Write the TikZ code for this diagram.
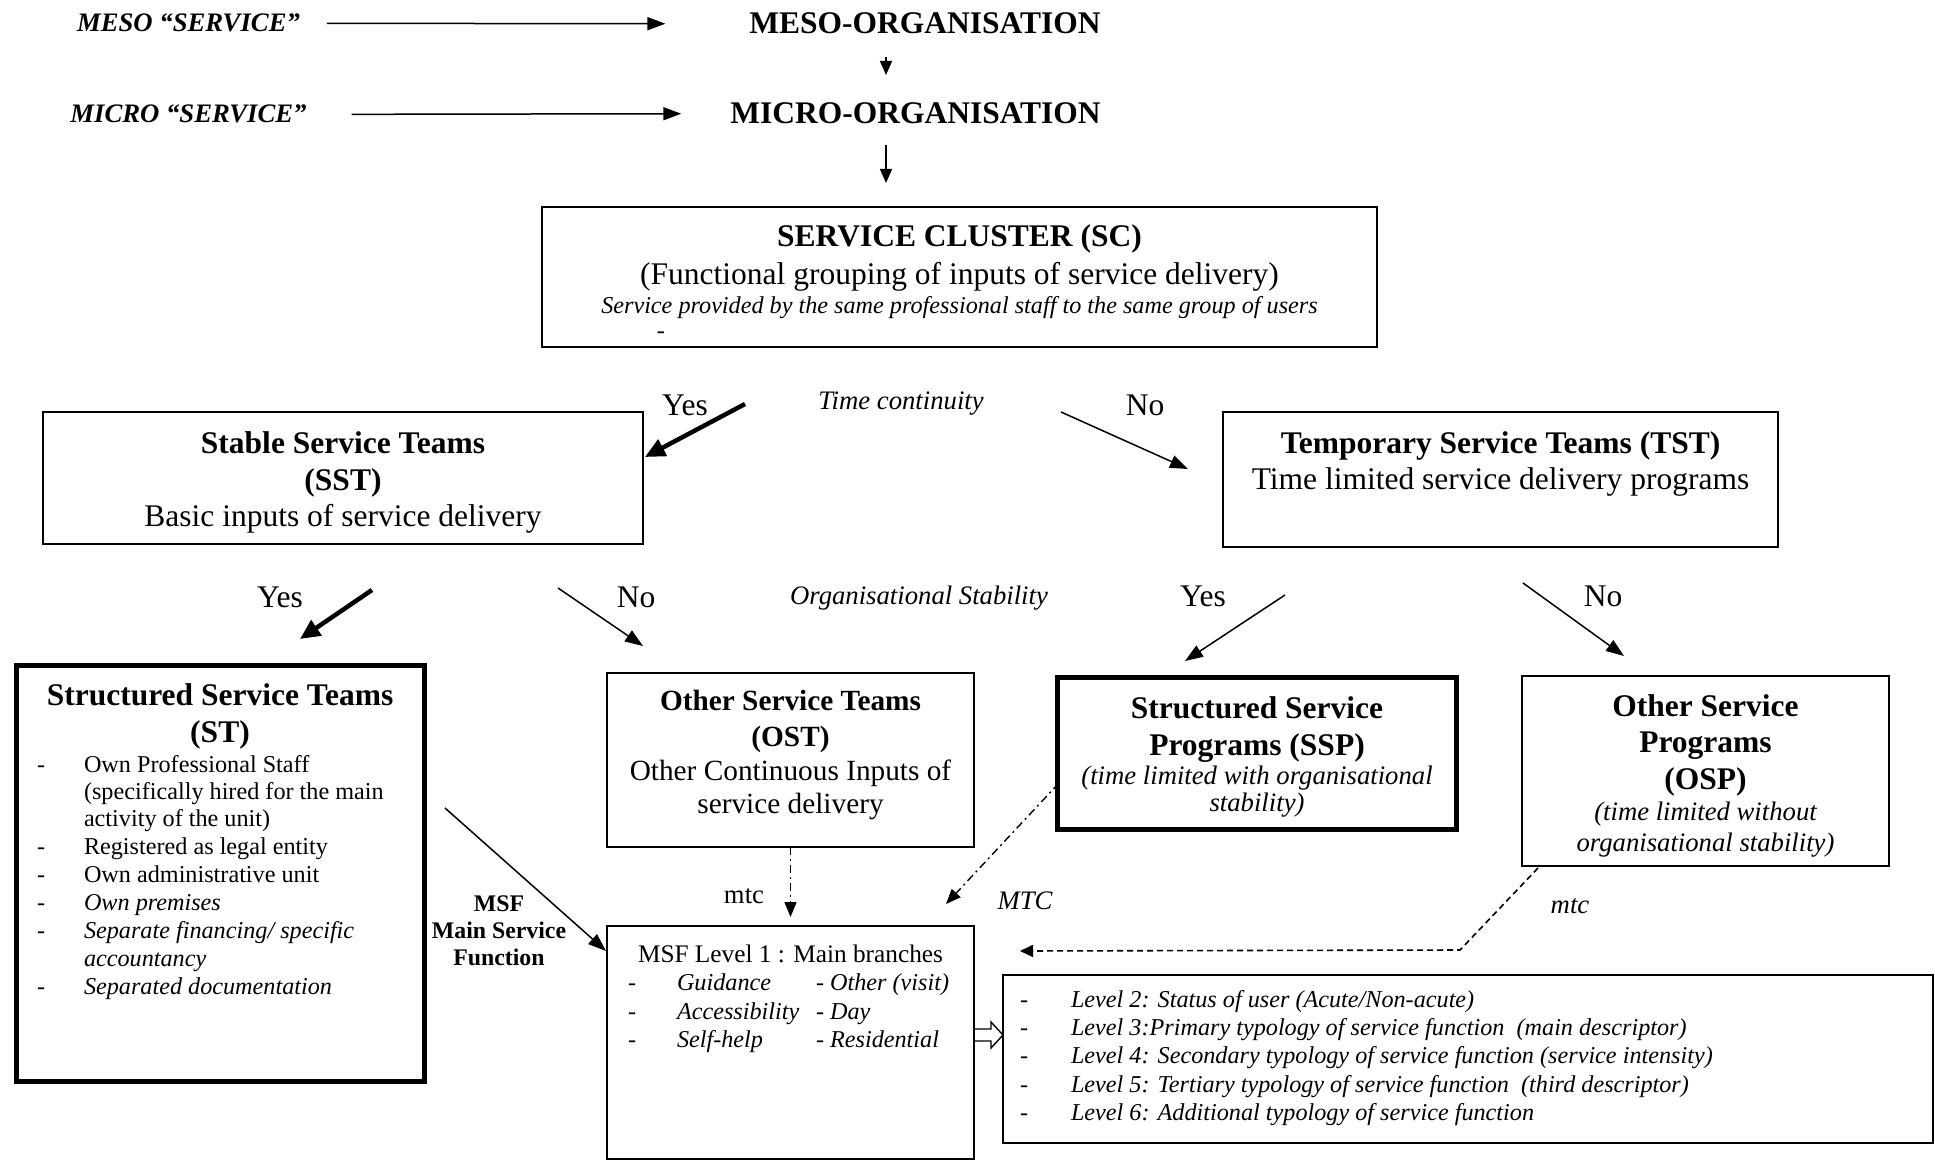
\documentclass[tikz,border=0pt]{standalone}
\usepackage{fontspec}
\setmainfont{Liberation Serif}
\usetikzlibrary{arrows.meta,calc}
\begin{document}
\begin{tikzpicture}[x=1pt,y=-1pt,
  every node/.style={inner sep=0pt,outer sep=0pt},
  frame/.style={draw,line width=1.4pt,anchor=north west},
  heavyframe/.style={draw,line width=5pt,anchor=north west},
  ln/.style={anchor=base},
  lw/.style={anchor=base west},
  fA/.style={font=\fontsize{31.5}{36}\selectfont},
  fAb/.style={font=\fontsize{31.5}{36}\selectfont\bfseries},
  fB/.style={font=\fontsize{29.3}{34}\selectfont},
  fBb/.style={font=\fontsize{29.3}{34}\selectfont\bfseries},
  fC/.style={font=\fontsize{26.7}{31}\selectfont},
  fCi/.style={font=\fontsize{26.7}{31}\selectfont\itshape},
  fCbi/.style={font=\fontsize{26.7}{31}\selectfont\bfseries\itshape},
  fD/.style={font=\fontsize{24.2}{28}\selectfont},
  fDi/.style={font=\fontsize{24.2}{28}\selectfont\itshape},
  fE/.style={font=\fontsize{25.3}{29}\selectfont},
  fEb/.style={font=\fontsize{23.8}{27}\selectfont\bfseries},
  arr/.style={line width=1.5pt,-{Triangle[length=18pt,width=13pt]}},
  smallarr/.style={line width=1.5pt,-{Triangle[length=14pt,width=12pt]}},
  heavyarr/.style={line width=4.5pt,-{Triangle[length=20pt,width=18pt]}},
  dotarr/.style={line width=1.4pt,dash pattern=on 8pt off 4pt on 2pt off 4pt,-{Triangle[length=15pt,width=12pt]}},
  dasharr/.style={line width=1.6pt,dash pattern=on 6pt off 4pt,-{Triangle[length=13pt,width=12pt]}},
  hollow/.style={line width=1.4pt,line join=miter},
]
\useasboundingbox (0,0) rectangle (1935,1161);

% ---- meso / micro levels
\node[fCbi,ln] (mesoSvc) at (188.5,32) {MESO “SERVICE”};
\node[fAb,ln] (mesoOrg) at (925,34) {MESO-ORGANISATION};
\node[fCbi,ln] (microSvc) at (188.5,123) {MICRO “SERVICE”};
\node[fAb,ln] (microOrg) at (915.5,124) {MICRO-ORGANISATION};

\draw[arr] ([xshift=27pt]mesoSvc.east) -- ([xshift=-84pt]mesoOrg.west);
\draw[arr] ([xshift=45pt]microSvc.east) -- ([xshift=-49pt]microOrg.west);
\coordinate (down1a) at (886,57);
\coordinate (down1b) at (886,75);
\coordinate (down2a) at (886,145);
\coordinate (down2b) at (886,183);
\draw[smallarr] (down1a) -- (down1b);
\draw[smallarr] (down2a) -- (down2b);

% ---- service cluster
\node[frame,minimum width=835pt,minimum height=140pt] (sc) at (542,207) {};
\node[fAb,ln] (sc1) at (959.5,247) {SERVICE CLUSTER (SC)};
\node[fA,ln] (sc2) at (959.5,284) {(Functional grouping of inputs of service delivery)};
\node[fDi,ln] (sc3) at (959.5,313) {Service provided by the same professional staff to the same group of users};
\node[fD,ln] (sc4) at (661,338) {-};

% ---- time continuity split
\node[fA,ln] (yes1) at (685,415) {Yes};
\node[fCi,ln] (timec) at (901,409) {Time continuity};
\node[fA,ln] (no1) at (1145,415) {No};
\coordinate (yes1a) at (745,404);
\coordinate (yes1b) at (645,457);
\coordinate (no1a) at (1061,412);
\coordinate (no1b) at (1188,469);
\draw[heavyarr] (yes1a) -- (yes1b);
\draw[arr] (no1a) -- (no1b);

% ---- stable / temporary teams
\node[frame,minimum width=600pt,minimum height=132pt] (sst) at (43,412) {};
\node[fAb,ln] (sst1) at (343,453) {Stable Service Teams};
\node[fAb,ln] (sst2) at (343,490) {(SST)};
\node[fA,ln] (sst3) at (343,526) {Basic inputs of service delivery};

\node[frame,minimum width=555pt,minimum height=135pt] (tst) at (1223,412) {};
\node[fAb,ln] (tst1) at (1500.5,453) {Temporary Service Teams (TST)};
\node[fA,ln] (tst2) at (1500.5,489) {Time limited service delivery programs};

% ---- organisational stability split
\node[fA,ln] (yes2) at (280,607) {Yes};
\node[fA,ln] (no2) at (636,607) {No};
\node[fCi,ln] (orgst) at (919,604) {Organisational Stability};
\node[fA,ln] (yes3) at (1203,606) {Yes};
\node[fA,ln] (no3) at (1603,606) {No};
\coordinate (yes2a) at (372,590);
\coordinate (yes2b) at (300,639);
\coordinate (no2a) at (558,588);
\coordinate (no2b) at (643,646);
\coordinate (yes3a) at (1285,595);
\coordinate (yes3b) at (1185,661);
\coordinate (no3a) at (1523,583);
\coordinate (no3b) at (1624,656);
\draw[heavyarr] (yes2a) -- (yes2b);
\draw[arr] (no2a) -- (no2b);
\draw[arr] (yes3a) -- (yes3b);
\draw[arr] (no3a) -- (no3b);

% ---- structured service teams
\node[heavyframe,minimum width=408pt,minimum height=416pt] (st) at (16,665) {};
\node[fAb,ln] (st1) at (220,705) {Structured Service Teams};
\node[fAb,ln] (st2) at (220,742) {(ST)};
\node[fD,lw] (std1) at (37,772) {-};
\node[fD,lw] (stl1) at (84,772) {Own Professional Staff};
\node[fD,lw] (stl2) at (84,799) {(specifically hired for the main};
\node[fD,lw] (stl3) at (84,826) {activity of the unit)};
\node[fD,lw] (std4) at (37,854) {-};
\node[fD,lw] (stl4) at (84,854) {Registered as legal entity};
\node[fD,lw] (std5) at (37,882) {-};
\node[fD,lw] (stl5) at (84,882) {Own administrative unit};
\node[fD,lw] (std6) at (37,910) {-};
\node[fDi,lw] (stl6) at (84,910) {Own premises};
\node[fD,lw] (std7) at (37,938) {-};
\node[fDi,lw] (stl7) at (84,938) {Separate financing/ specific};
\node[fDi,lw] (stl8) at (84,966) {accountancy};
\node[fD,lw] (std9) at (37,994) {-};
\node[fDi,lw] (stl9) at (84,994) {Separated documentation};

% ---- other service teams
\node[frame,minimum width=367pt,minimum height=174pt] (ost) at (607,673) {};
\node[fBb,ln] (ost1) at (790.5,710) {Other Service Teams};
\node[fBb,ln] (ost2) at (790.5,746) {(OST)};
\node[fB,ln] (ost3) at (790.5,780) {Other Continuous Inputs of};
\node[fB,ln] (ost4) at (790.5,813) {service delivery};

% ---- structured service programs
\node[heavyframe,minimum width=399pt,minimum height=152pt] (ssp) at (1057.5,677.5) {};
\node[fAb,ln] (ssp1) at (1257,718) {Structured Service};
\node[fAb,ln] (ssp2) at (1257,755) {Programs (SSP)};
\node[fCi,ln] (ssp3) at (1257,784) {(time limited with organisational};
\node[fCi,ln] (ssp4) at (1257,811) {stability)};

% ---- other service programs
\node[frame,minimum width=367pt,minimum height=190pt] (osp) at (1522,676) {};
\node[fAb,ln] (osp1) at (1705.5,716) {Other Service};
\node[fAb,ln] (osp2) at (1705.5,752) {Programs};
\node[fAb,ln] (osp3) at (1705.5,789) {(OSP)};
\node[fCi,ln] (osp4) at (1705.5,820) {(time limited without};
\node[fCi,ln] (osp5) at (1705.5,851) {organisational stability)};

% ---- main service function level 1
\node[frame,minimum width=367pt,minimum height=233pt] (msf) at (607,926) {};
\node[fE,ln] (msf1) at (790.5,962) {MSF Level 1 : Main branches};
\node[fD,lw] (msfd1) at (628,990) {-};
\node[fDi,lw] (msfa1) at (677,990) {Guidance};
\node[fDi,lw] (msfb1) at (816,990) {- Other (visit)};
\node[fD,lw] (msfd2) at (628,1019) {-};
\node[fDi,lw] (msfa2) at (677,1019) {Accessibility};
\node[fDi,lw] (msfb2) at (816,1019) {- Day};
\node[fD,lw] (msfd3) at (628,1047) {-};
\node[fDi,lw] (msfa3) at (677,1047) {Self-help};
\node[fDi,lw] (msfb3) at (816,1047) {- Residential};

\node[fEb,ln] (msfl1) at (499,911) {MSF};
\node[fEb,ln] (msfl2) at (499,938) {Main Service};
\node[fEb,ln] (msfl3) at (499,965) {Function};

% ---- further levels
\node[frame,minimum width=930pt,minimum height=168pt] (lev) at (1003,975) {};
\node[fD,lw] (levd2) at (1020,1007) {-};
\node[fDi,lw] (lev2) at (1071,1007) {Level 2: Status of user (Acute/Non-acute)};
\node[fD,lw] (levd3) at (1020,1035) {-};
\node[fDi,lw] (lev3) at (1071,1035) {Level 3:Primary typology of service function \ (main descriptor)};
\node[fD,lw] (levd4) at (1020,1063) {-};
\node[fDi,lw] (lev4) at (1071,1063) {Level 4: Secondary typology of service function (service intensity)};
\node[fD,lw] (levd5) at (1020,1092) {-};
\node[fDi,lw] (lev5) at (1071,1092) {Level 5: Tertiary typology of service function \ (third descriptor)};
\node[fD,lw] (levd6) at (1020,1120) {-};
\node[fDi,lw] (lev6) at (1071,1120) {Level 6: Additional typology of service function};

% ---- connectors into level 1
\coordinate (stOut) at (445,808);
\coordinate (msfIn) at (606,951);
\draw[arr] (stOut) -- (msfIn);

\node[fC,ln] (mtc1) at (744,903) {mtc};
\coordinate (ostOut) at (ost.south);
\coordinate (ostIn) at ($(ost.south)+(0,70)$);
\draw[dotarr] (ostOut) -- (ostIn);

\node[fCi,ln] (mtc2) at (1025,909) {MTC};
\coordinate (sspOut) at (1059,783);
\coordinate (sspIn) at (946,904);
\draw[dotarr] (sspOut) -- (sspIn);

\node[fCi,ln] (mtc3) at (1570,913) {mtc};
\coordinate (ospOut) at (1538,868);
\coordinate (ospBend) at (1460,950);
\coordinate (ospIn) at (1020,951);
\draw[dasharr] (ospOut) -- (ospBend) -- (ospIn);

% ---- hollow block arrow from level 1 to the further levels
\coordinate (hA) at (msf.east |- 0,1035);
\coordinate (hB) at (lev.west |- 0,1035);
\draw[hollow] ($(hA)+(0,-6)$) -- ($(hB)+(-12,-6)$) -- ($(hB)+(-12,-13)$) -- (hB)
  -- ($(hB)+(-12,13)$) -- ($(hB)+(-12,6)$) -- ($(hA)+(0,6)$);
\end{tikzpicture}
\end{document}
